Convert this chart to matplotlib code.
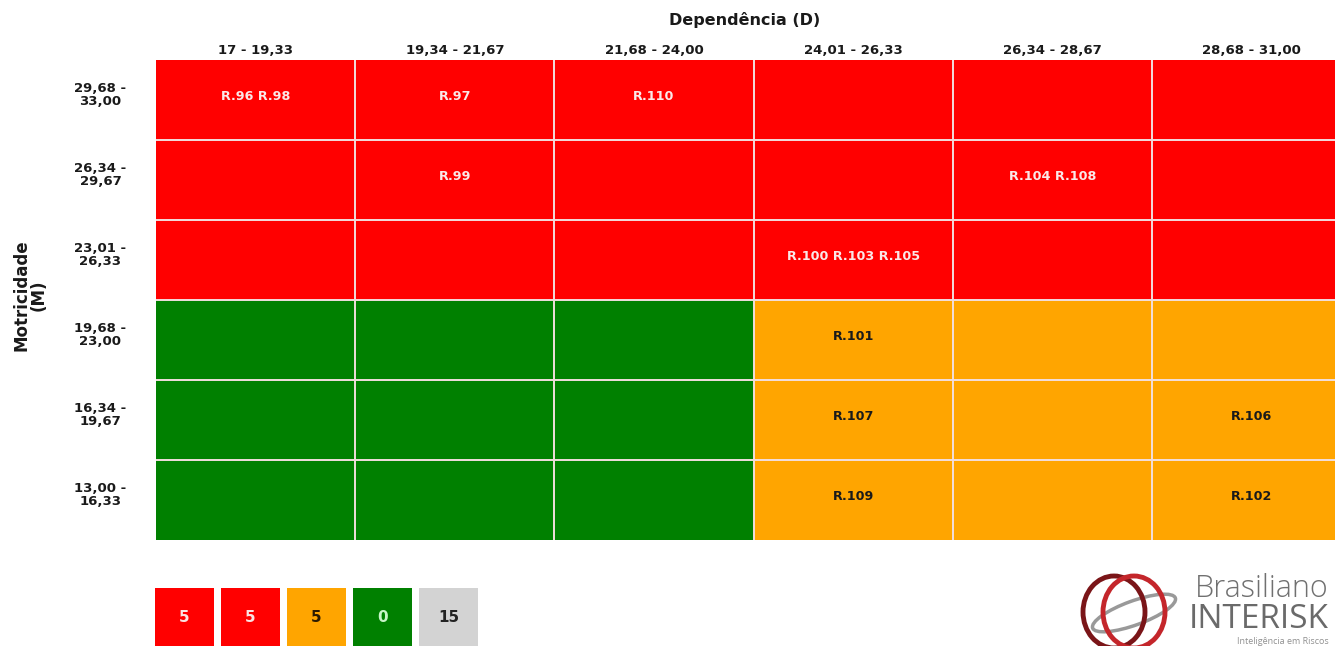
import matplotlib
matplotlib.use("Agg")
import matplotlib.pyplot as plt
import numpy as np
from matplotlib.colors import ListedColormap
from matplotlib.patches import Ellipse, Rectangle

# Ranges for each axis of the matrix
col_labels = ["17 - 19,33", "19,34 - 21,67", "21,68 - 24,00",
              "24,01 - 26,33", "26,34 - 28,67", "28,68 - 31,00"]
row_labels = ["29,68 -\n33,00", "26,34 -\n29,67", "23,01 -\n26,33",
              "19,68 -\n23,00", "16,34 -\n19,67", "13,00 -\n16,33"]

# Zone of each cell (0 = green, 1 = orange, 2 = red), top row first
zones = [
    [2, 2, 2, 2, 2, 2],
    [2, 2, 2, 2, 2, 2],
    [2, 2, 2, 2, 2, 2],
    [0, 0, 0, 1, 1, 1],
    [0, 0, 0, 1, 1, 1],
    [0, 0, 0, 1, 1, 1],
]

# Risks placed in each cell
cell_risks = [
    ["R.96 R.98", "R.97", "R.110", "", "", ""],
    ["", "R.99", "", "", "R.104 R.108", ""],
    ["", "", "", "R.100 R.103 R.105", "", ""],
    ["", "", "", "R.101", "", ""],
    ["", "", "", "R.107", "", "R.106"],
    ["", "", "", "R.109", "", "R.102"],
]

# Summary boxes below the matrix
summary_counts = [5, 5, 5, 0, 15]
summary_colors = ["#ff0000", "#ff0000", "#ffa500", "#008000", "#d3d3d3"]
summary_text = ["#fbe3e3", "#fbe3e3", "#2b1a00", "#c8f5c8", "#222222"]

zone_colors = ["#008000", "#ffa500", "#ff0000"]
zone_text = ["white", "#1a1a1a", "#fbe8e8"]

W, H = 1335, 646
fig = plt.figure(figsize=(W / 100, H / 100), dpi=100)

# Matrix axes (right column runs past the figure edge)
ax = fig.add_axes([156 / W, 1 - 540 / H, (1351 - 156) / W, 480 / H])
z = np.array(zones)
ax.pcolormesh(np.arange(7), np.arange(7), z, cmap=ListedColormap(zone_colors),
              vmin=-0.5, vmax=2.5)
# thin light separators between cells
for k in range(1, 6):
    ax.axvline(k, color="#f2dede", linewidth=1.4)
    ax.axhline(k, color="#f2dede", linewidth=1.4)
ax.set_xlim(0, 6)
ax.set_ylim(6, 0)

for i in range(6):
    for j in range(6):
        if cell_risks[i][j]:
            ax.text(j + 0.5, i + 0.45, cell_risks[i][j], ha="center", va="center",
                    fontsize=9.2, fontweight="bold", color=zone_text[z[i, j]])

ax.xaxis.tick_top()
ax.set_xticks(np.arange(6) + 0.5)
ax.set_xticklabels(col_labels, fontsize=9.5, fontweight="bold", color="#1a1a1a")
ax.set_yticks(np.arange(6) + 0.42)
ax.set_yticklabels(row_labels, fontsize=9.5, fontweight="bold", color="#1a1a1a",
                   linespacing=0.95, ha="center")
ax.tick_params(length=0, pad=2)
ax.tick_params(axis="y", pad=40)
for s in ax.spines.values():
    s.set_visible(False)

fig.text(745 / W, 1 - 20 / H, "Dependência (D)", ha="center", va="center",
         fontsize=11.5, fontweight="bold", color="#1a1a1a")
fig.text(30 / W, 1 - 295 / H, "Motricidade\n(M)", ha="center", va="center",
         rotation=90, fontsize=12, fontweight="bold", color="#1a1a1a",
         linespacing=0.95)

# Summary boxes along the bottom
lx = fig.add_axes([0, 0, 1, 1], facecolor="none")
lx.set_xlim(0, W)
lx.set_ylim(H, 0)
lx.axis("off")
for k, (n, c, tc) in enumerate(zip(summary_counts, summary_colors, summary_text)):
    x0 = 155 + k * 66
    lx.add_patch(Rectangle((x0, 588), 59, 70, facecolor=c, edgecolor="none"))
    lx.text(x0 + 29.5, 618, str(n), ha="center", va="center", fontsize=11,
            fontweight="bold", color=tc)

# Logo in the lower right
lx.add_patch(Ellipse((1134, 613), 88, 24, angle=-20, fill=False,
                     edgecolor="#999999", linewidth=2.5))
lx.add_patch(Ellipse((1114, 612), 62, 72, fill=False,
                     edgecolor="#7a1518", linewidth=3.5))
lx.add_patch(Ellipse((1134, 612), 62, 72, fill=False,
                     edgecolor="#c4262b", linewidth=3.5))
lx.text(1329, 589, "Brasiliano", ha="right", va="center", fontsize=22,
        family="Open Sans", fontweight="light", color="#707070")
lx.text(1329, 620, "INTERISK", ha="right", va="center", fontsize=24,
        family="Open Sans", color="#6a6a6a")
lx.text(1329, 641, "Inteligência em Riscos", ha="right", va="center",
        fontsize=6.5, family="Open Sans", color="#909090")

fig.savefig("out.png", dpi=100)
